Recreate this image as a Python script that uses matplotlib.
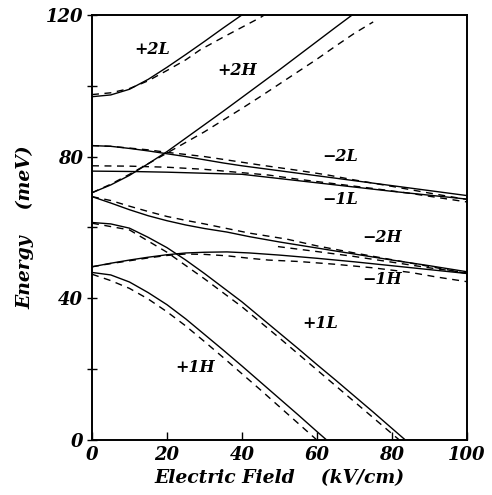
import matplotlib
matplotlib.use("Agg")
import matplotlib.pyplot as plt

# ---- data ----
p2L_x = [0, 5, 10, 15, 20, 25, 30, 35, 40.3]
p2L_y = [96.9, 97.4, 99.0, 101.8, 105.2, 108.8, 112.5, 116.3, 120.2]
p2L_dx = [0, 5, 10, 15, 20, 25, 28.8, 35, 40, 45, 46]
p2L_dy = [97.5, 98.0, 99.2, 101.4, 104.3, 107.3, 110.1, 113.7, 116.5, 119.3, 120.0]

p2H_x = [0, 5, 10, 15, 20, 25, 30, 35, 40, 45, 50, 55, 60, 65, 69.7]
p2H_y = [69.8, 72.0, 74.7, 78.0, 81.4, 85.2, 89.0, 92.8, 96.7, 100.6, 104.5, 108.5, 112.5, 116.5, 120.2]
p2H_dx = [0, 5, 10, 15, 20, 25, 30, 35, 40, 45, 50, 55, 60, 65, 70, 75]
p2H_dy = [69.8, 72.2, 75.0, 78.0, 81.0, 84.0, 87.0, 90.3, 93.6, 97.0, 100.5, 104.0, 107.5, 111.2, 114.8, 118.0]

m2L_x = [0, 5, 10, 15, 20, 25, 30, 35, 40, 50, 60, 70, 80, 90, 100]
m2L_y = [83.1, 82.9, 82.3, 81.6, 80.8, 80.0, 79.1, 78.2, 77.4, 76.0, 74.6, 73.2, 71.8, 70.4, 69.0]
m2L_dx = [0, 5, 10, 15, 20, 25, 30, 36.3, 45, 55, 62.9, 70, 80, 90, 100]
m2L_dy = [83.1, 82.9, 82.4, 81.9, 81.2, 80.6, 80.0, 79.0, 77.6, 76.1, 74.8, 73.4, 71.6, 69.7, 67.9]

m1L_x = [0, 10, 20, 30, 40, 50, 60, 70, 80, 90, 100]
m1L_y = [75.9, 75.8, 75.6, 75.3, 75.0, 73.8, 72.6, 71.4, 70.2, 69.1, 68.0]
m1L_dx = [0, 10, 20, 30, 36.3, 47, 55, 65, 75, 85, 100]
m1L_dy = [77.4, 77.3, 77.0, 76.4, 75.8, 74.8, 73.6, 72.3, 71.0, 69.6, 67.2]

m2H_x = [0, 5, 10, 15, 20, 25, 30, 36, 42, 50, 60, 70, 80, 90, 100]
m2H_y = [68.7, 66.9, 65.0, 63.3, 61.9, 60.7, 59.7, 58.7, 57.4, 55.9, 54.2, 52.5, 50.8, 49.2, 47.5]
m2H_dx = [0, 5, 10, 15, 20, 25, 30, 36, 42, 52, 60, 70, 80, 90, 100]
m2H_dy = [68.7, 67.6, 66.0, 64.5, 63.1, 62.0, 61.0, 59.7, 58.4, 56.7, 54.8, 52.8, 50.9, 49.0, 47.0]
mid_dx = [49.6, 60, 70, 80, 90, 100]
mid_dy = [54.6, 53.2, 51.8, 50.2, 48.6, 47.2]

m1H_x = [0, 5, 10, 15, 20, 25, 30, 36, 42, 50, 60, 70, 80, 90, 100]
m1H_y = [48.9, 49.9, 50.8, 51.6, 52.3, 52.8, 53.0, 53.1, 52.8, 52.2, 51.3, 50.3, 49.2, 48.1, 47.0]
m1H_dx = [0, 5, 10, 15, 20, 25, 30, 36, 42, 47, 55, 65, 75, 85, 92, 100]
m1H_dy = [48.9, 49.8, 50.6, 51.4, 52.1, 52.5, 52.4, 52.0, 51.3, 50.8, 50.4, 49.6, 48.6, 47.3, 46.0, 44.7]

p1L_x = [0, 5, 10, 15, 20, 25, 30, 35, 40, 45, 50, 55, 60, 65, 70, 75, 80, 83.6]
p1L_y = [61.4, 61.0, 59.8, 57.2, 54.3, 50.8, 47.0, 43.0, 39.0, 34.6, 30.2, 25.8, 21.3, 16.9, 12.4, 7.9, 3.3, 0]
p1L_dx = [0, 10, 20, 30, 40, 50, 60, 70, 80, 82]
p1L_dy = [61.2, 59.3, 53.0, 45.5, 37.6, 28.8, 19.8, 10.8, 1.8, 0]

p1H_x = [0, 5, 10, 15, 20, 25, 30, 35, 40, 45, 50, 55, 60, 62.6]
p1H_y = [47.3, 46.6, 44.6, 41.6, 38.2, 34.2, 29.8, 25.4, 20.9, 16.3, 11.7, 7.1, 2.4, 0]
p1H_dx = [0, 5, 10, 15, 20, 25, 30, 35, 40, 45, 50, 55, 60]
p1H_dy = [46.8, 45.0, 42.8, 39.8, 36.2, 32.2, 27.8, 23.3, 18.7, 14.1, 9.4, 4.7, 0]

labels = ["+2L", "+2H", "\u22122L", "\u22121L", "\u22122H", "\u22121H", "+1L", "+1H"]
label_x = [16.0, 38.7, 66.1, 66.1, 77.3, 77.3, 60.8, 27.5]
label_y = [110.1, 104.2, 79.9, 68.0, 57.3, 45.2, 33.0, 20.6]

xticks = [0, 20, 40, 60, 80, 100]
yticks = [0, 20, 40, 60, 80, 100, 120]
ytick_labels = ["0", "", "40", "", "80", "", "120"]

# ---- figure ----
fig = plt.figure(figsize=(4.92, 4.95), dpi=100)
ax = fig.add_axes([0.187, 0.111, 0.762, 0.859])

solid = [(p2L_x, p2L_y), (p2H_x, p2H_y), (m2L_x, m2L_y), (m1L_x, m1L_y),
         (m2H_x, m2H_y), (m1H_x, m1H_y), (p1L_x, p1L_y), (p1H_x, p1H_y)]
dashed = [(p2L_dx, p2L_dy), (p2H_dx, p2H_dy), (m2L_dx, m2L_dy), (m1L_dx, m1L_dy),
          (m2H_dx, m2H_dy), (mid_dx, mid_dy), (m1H_dx, m1H_dy), (p1L_dx, p1L_dy),
          (p1H_dx, p1H_dy)]
for xs, ys in solid:
    ax.plot(xs, ys, color="black", lw=1.0, solid_capstyle="butt")
for xs, ys in dashed:
    ax.plot(xs, ys, color="black", lw=1.0, dashes=(5, 4))

font = dict(family="DejaVu Serif", weight="bold", style="italic")
for t, x, y in zip(labels, label_x, label_y):
    ax.text(x, y, t, ha="center", va="center", fontsize=11.5, **font)

ax.set_xlim(0, 100)
ax.set_ylim(0, 120)
ax.set_xticks(xticks)
ax.set_xticklabels([str(v) for v in xticks], fontsize=13, **font)
ax.set_yticks(yticks)
ax.set_yticklabels(ytick_labels, fontsize=13, **font)
ax.tick_params(axis="x", direction="in", length=6, width=1.0, pad=4)
ax.tick_params(axis="y", direction="inout", length=7, width=1.0, pad=3)
for s in ax.spines.values():
    s.set_linewidth(1.4)

ax.set_xlabel("Electric Field    (kV/cm)", fontsize=13.5, labelpad=4, **font)
ax.set_ylabel("Energy    (meV)", fontsize=13.5, labelpad=8, **font)

fig.savefig("out.png", dpi=100)
